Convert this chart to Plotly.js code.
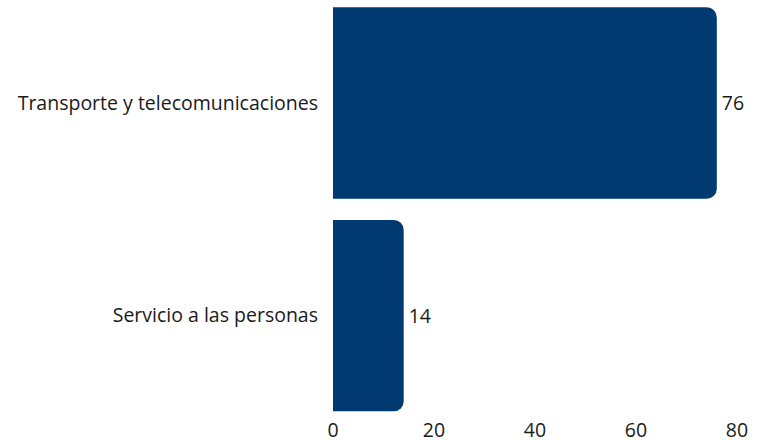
<!DOCTYPE html>
<html>
<head>
<meta charset="utf-8">
<script src="https://cdn.plot.ly/plotly-3.0.1.min.js"></script>
<style>html,body{margin:0;padding:0;background:#fff;}#chart{width:757px;height:440px;}</style>
</head>
<body>
<div id="chart"></div>
<script>
const categories = ["Transporte y telecomunicaciones", "Servicio a las personas"];
const values = [76, 14];
const xTicks = [0, 20, 40, 60, 80];

const FONT = {family: "Open Sans", size: 19.5, color: "#1a1a1a"};

const trace = {
  type: "bar",
  orientation: "h",
  y: categories,
  x: values,
  text: values.map(v => "\u200A" + v),
  textposition: "outside",
  cliponaxis: false,
  textfont: FONT,
  marker: {color: "#003a70", cornerradius: 10},
  hoverinfo: "none"
};

const layout = {
  width: 757, height: 440,
  margin: {l: 333, r: 20, t: 0, b: 18},
  paper_bgcolor: "#fff", plot_bgcolor: "#fff",
  bargap: 0.1,
  showlegend: false,
  font: FONT,
  xaxis: {
    range: [0, 80], tickvals: xTicks, ticktext: xTicks.map(String),
    showgrid: false, zeroline: false, showline: false, ticks: "",
    ticklabelstandoff: -6,
    tickfont: FONT
  },
  yaxis: {
    range: [1.5, -0.484], showgrid: false, zeroline: false, showline: false, ticks: "",
    ticklabelstandoff: 14,
    tickfont: FONT
  }
};

Plotly.newPlot("chart", [trace], layout, {displayModeBar: false, staticPlot: true});
</script>
</body>
</html>
